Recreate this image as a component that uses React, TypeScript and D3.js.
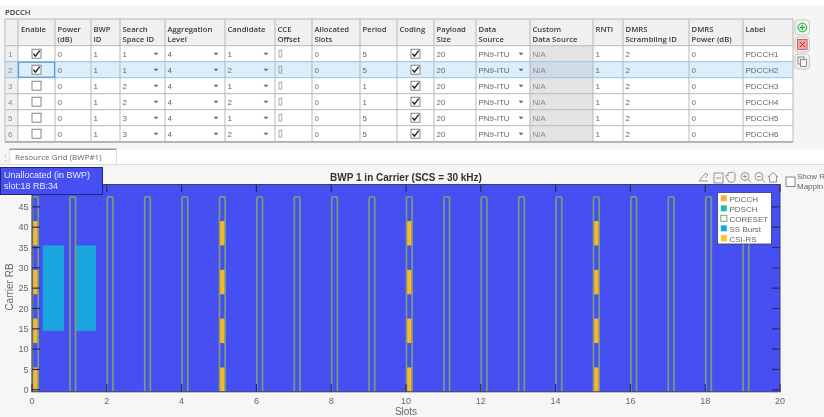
import React from "react";
import * as d3 from "d3";

const headers = [["", ""], ["Enable"], ["Power", "(dB)"], ["BWP", "ID"], ["Search", "Space ID"], ["Aggregation", "Level"], ["Candidate"], ["CCE", "Offset"], ["Allocated", "Slots"], ["Period"], ["Coding"], ["Payload", "Size"], ["Data", "Source"], ["Custom", "Data Source"], ["RNTI"], ["DMRS", "Scrambling ID"], ["DMRS", "Power (dB)"], ["Label"]];
const rowIds = ["1", "2", "3", "4", "5", "6"];
const enable = [true, true, false, false, false, false];
const power = ["0", "0", "0", "0", "0", "0"];
const bwpId = ["1", "1", "1", "1", "1", "1"];
const searchSpace = ["1", "1", "2", "2", "3", "3"];
const aggregation = ["4", "4", "4", "4", "4", "4"];
const candidate = ["1", "2", "1", "2", "1", "2"];
const allocated = ["0", "0", "0", "0", "0", "0"];
const period = ["5", "5", "1", "1", "5", "5"];
const payload = ["20", "20", "20", "20", "20", "20"];
const rnti = ["1", "1", "1", "1", "1", "1"];
const scrambling = ["2", "2", "2", "2", "2", "2"];
const dmrsPower = ["0", "0", "0", "0", "0", "0"];
const labels = ["PDCCH1", "PDCCH2", "PDCCH3", "PDCCH4", "PDCCH5", "PDCCH6"];

// grid content, in slots and resource blocks
const coresetSlots = d3.range(0, 20);
const coresetSymbols = 2;
const symbolsPerSlot = 14;
const coresetRB = [0, 47];
const csiSlots = [0, 5, 10, 15];
const csiBlocks = [[0, 5], [12, 17], [24, 29], [36, 41]];
const ssBursts = [[0.2857, 0.8571], [1.1429, 1.7143]];
const ssRB = [15, 35];
const xTicks = d3.range(0, 21, 2);
const yTicks = d3.range(0, 50, 5);
const legendItems = ["PDCCH", "PDSCH", "CORESET", "SS Burst", "CSI-RS"];
const legendColors = ["#f9ae3c", "#1fbcae", "#ffffff", "#1ba6e6", "#fbc02a"];

const colEdges = [5, 18, 55, 91, 120, 165, 225, 275, 312, 360, 397, 434, 476, 530, 593, 623, 689, 743, 793];
const rowEdge = d3.scaleLinear().domain([0, 6]).range([45.7, 141.7]);
const x = d3.scaleLinear().domain([0, 20]).range([32, 780]);
const y = d3.scaleLinear().domain([-0.5, 50.5]).range([391.8, 184.5]);

const FONT = "'Open Sans','Noto Sans',sans-serif";
const PLOTFONT = "'Liberation Sans',Arial,sans-serif";

function Check({ cx, cy, on }: { cx: number; cy: number; on: boolean }) {
  return (
    <g>
      <rect x={cx - 4.5} y={cy - 4.5} width={9} height={9} fill="#fff" stroke="#666" strokeWidth={0.8} />
      {on && <path d={`M${cx - 3},${cy} L${cx - 1},${cy + 2.5} L${cx + 3.2},${cy - 3}`} fill="none" stroke="#222" strokeWidth={1.4} />}
    </g>
  );
}

function Arrow({ cx, cy }: { cx: number; cy: number }) {
  return <path d={`M${cx - 2.5},${cy - 1} L${cx + 2.5},${cy - 1} L${cx},${cy + 1.5} Z`} fill="#666" />;
}

function Table() {
  const cols: (string[] | null)[] = [rowIds, null, power, bwpId, searchSpace, aggregation, candidate, null, allocated, period, null, payload, null, null, rnti, scrambling, dmrsPower, labels];
  const dropdown = [4, 5, 6, 12];
  return (
    <g fontFamily={FONT} fontSize={8}>
      <rect x={0} y={5} width={824} height={143} fill="#f5f5f5" />
      <text x={5} y={14.5} fill="#333" fontWeight={600} fontSize={7.6}>PDCCH</text>
      <rect x={colEdges[0]} y={19} width={788} height={26.7} fill="#f0f0f0" />
      {rowIds.map((_, r) => (
        <g key={r}>
          <rect x={18} y={rowEdge(r)} width={775} height={rowEdge(r + 1) - rowEdge(r)} fill={r === 1 ? "#dbeefc" : "#fff"} />
          <rect x={5} y={rowEdge(r)} width={13} height={rowEdge(r + 1) - rowEdge(r)} fill={r === 1 ? "#dbe6ef" : "#f0f0f0"} />
          <rect x={colEdges[13]} y={rowEdge(r)} width={colEdges[14] - colEdges[13]} height={rowEdge(r + 1) - rowEdge(r)} fill={r === 1 ? "#cfdbe6" : "#e3e3e3"} />
        </g>
      ))}
      {colEdges.map((e, i) => <line key={i} x1={e} x2={e} y1={19} y2={141.7} stroke="#b8b8b8" strokeWidth={1} />)}
      {d3.range(0, 7).map(r => <line key={r} x1={5} x2={793} y1={rowEdge(r)} y2={rowEdge(r)} stroke={r === 1 || r === 2 ? "#9fbfd8" : "#b8b8b8"} strokeWidth={1} />)}
      <line x1={5} x2={793} y1={19} y2={19} stroke="#b8b8b8" />
      <line x1={5} x2={793} y1={142} y2={142} stroke="#a8a8a8" strokeWidth={1.5} />
      {headers.map((h, c) => h.map((s, i) => (
        <text key={c + "-" + i} x={colEdges[c] + (c === 1 ? 3 : 2.5)} y={31.8 + i * 10.2} fontWeight={600} fontSize={7.7} fill="#3a3a3a">{s}</text>
      )))}
      {rowIds.map((_, r) => {
        const cy = (rowEdge(r) + rowEdge(r + 1)) / 2;
        return (
          <g key={r}>
            <Check cx={36.5} cy={cy} on={enable[r]} />
            <Check cx={415.5} cy={cy} on={true} />
            {r === 1 && <rect x={18.5} y={rowEdge(r) + 0.5} width={36} height={15} fill="none" stroke="#4a9fe0" strokeWidth={1.2} />}
            {cols.map((col, c) => col && (
              <text key={c} x={c === 0 ? 8 : colEdges[c] + 2.5} y={cy + 3} fill={c === 0 ? "#888" : "#666"} fontFamily={PLOTFONT} fontSize={8}>{col[r]}</text>
            ))}
            {dropdown.map(c => <Arrow key={c} cx={colEdges[c + 1] - 9} cy={cy} />)}
            <rect x={colEdges[7] + 4} y={cy - 3.5} width={2.8} height={7} fill="none" stroke="#888" strokeWidth={0.7} />
            <text x={colEdges[12] + 2.5} y={cy + 3} fill="#666" fontFamily={PLOTFONT} fontSize={8}>PN9-ITU</text>
            <text x={colEdges[13] + 2.5} y={cy + 3} fill="#888" fontFamily={PLOTFONT} fontSize={8}>N/A</text>
          </g>
        );
      })}
      {[20, 37, 54].map((by, i) => (
        <g key={i}>
          <rect x={795} y={by} width={14.5} height={15} rx={3} fill="#f2f2f2" stroke="#bbb" strokeWidth={0.8} />
          {i === 0 && <g><circle cx={802.3} cy={by + 7.5} r={4.4} fill="#c8f0c8" stroke="#32a852" strokeWidth={1} /><path d={`M799.8,${by + 7.5}h5M802.3,${by + 5}v5`} stroke="#2a9a48" strokeWidth={1} /></g>}
          {i === 1 && <g><rect x={797.5} y={by + 2.5} width={9.6} height={10} fill="#f2a0a0" stroke="#c04040" strokeWidth={0.7} /><path d={`M800,${by + 5}l5,5M805,${by + 5}l-5,5`} stroke="#c03030" strokeWidth={1} /></g>}
          {i === 2 && <g fill="#f2f2f2" stroke="#777" strokeWidth={0.8}><rect x={798} y={by + 3} width={6} height={7} /><rect x={800.5} y={by + 5.5} width={6} height={7} /></g>}
        </g>
      ))}
    </g>
  );
}

function Plot() {
  const fill = "#4650f2";
  const csiW = x(coresetSymbols / symbolsPerSlot) - x(0);
  const top = y(coresetRB[1] + 0.5);
  const bottom = y(coresetRB[0] - 0.5);
  return (
    <g fontFamily={PLOTFONT}>
      <rect x={0} y={148} width={824} height={269} fill="#f6f6f6" />
      <rect x={117} y={150} width={707} height={14} fill="#ffffff" />
      <rect x={0} y={164} width={824} height={1} fill="#dcdcdc" />
      <rect x={9.5} y={149.5} width={107} height={15} fill="#fff" stroke="#ddd" />
      <rect x={9.5} y={148.5} width={107} height={1.5} fill="#999" />
      <text x={15} y={160} fontSize={8} fill="#666" fontFamily={FONT}>Resource Grid (BWP#1)</text>
      <text x={2} y={160} fontSize={7} fill="#888">⋮</text>

      <rect x={x(0)} y={y(50.5)} width={x(20) - x(0)} height={y(-0.5) - y(50.5)} fill={fill} />
      {ssBursts.map((b, i) => (
        <rect key={i} x={x(b[0])} width={x(b[1]) - x(b[0])} y={y(ssRB[1] + 0.5)} height={y(ssRB[0] - 0.5) - y(ssRB[1] + 0.5)} fill="#1ba6e0" />
      ))}
      {csiSlots.map(s => csiBlocks.map((b, i) => (
        <rect key={s + "-" + i} x={x(s) + 0.5} width={csiW} y={y(b[1] + 0.5)} height={y(b[0] - 0.5) - y(b[1] + 0.5)} fill="#f9b52b" />
      )))}
      {coresetSlots.map(s => {
        const l = x(s) + 0.5;
        const r = x(s) + csiW + 0.8;
        return (
          <path key={s}
            d={`M${l},${bottom} V${top + 1.5} Q${l},${top} ${l + 1.5},${top} H${r - 1.5} Q${r},${top} ${r},${top + 1.5} V${bottom}`}
            fill="none" stroke="#7f9f72" strokeWidth={1.6} />
        );
      })}
      {xTicks.map(t => (
        <g key={t}>
          <line x1={x(t)} x2={x(t)} y1={391.8} y2={384} stroke="#23286a" strokeWidth={1.2} />
          <line x1={x(t)} x2={x(t)} y1={184.5} y2={192} stroke="#23286a" strokeWidth={1.2} />
          <text x={x(t)} y={403.5} fontSize={9} fill="#666" textAnchor="middle">{t}</text>
        </g>
      ))}
      {yTicks.map(t => (
        <g key={t}>
          <line x1={32} x2={40} y1={y(t)} y2={y(t)} stroke="#23286a" strokeWidth={1.2} />
          <line x1={780} x2={772} y1={y(t)} y2={y(t)} stroke="#23286a" strokeWidth={1.2} />
          <text x={28.5} y={y(t) + 3.2} fontSize={9} fill="#666" textAnchor="end">{t}</text>
        </g>
      ))}
      <rect x={32} y={184.5} width={748} height={207.3} fill="none" stroke="#3a3f6a" strokeWidth={1} />
      <text x={406} y={180.5} fontSize={10} fontWeight={700} fill="#333" textAnchor="middle">BWP 1 in Carrier (SCS = 30 kHz)</text>
      <text x={406} y={414.5} fontSize={10} fill="#666" textAnchor="middle">Slots</text>
      <text transform="translate(13,287) rotate(-90)" fontSize={10} fill="#666" textAnchor="middle">Carrier RB</text>

      <g>
        <rect x={717.5} y={192.5} width={54} height={51.5} fill="#fff" stroke="#333a60" strokeWidth={0.8} />
        {legendItems.map((l, i) => (
          <g key={l}>
            <rect x={720.8} y={195.3 + i * 10} width={6} height={6} fill={legendColors[i]} stroke={l === "CORESET" ? "#7f9f72" : "none"} strokeWidth={1} />
            <text x={729.5} y={201.5 + i * 10} fontSize={8} fill="#666">{l}</text>
          </g>
        ))}
      </g>

      <g fill="none" stroke="#8a8a8a" strokeWidth={0.9}>
        <path d="M699,181 l4,-5 l3,-3 l2,2 l-3,3 M699,181 h9" />
        <rect x={714} y={173} width={9} height={10} />
        <path d="M716,178h5" />
        <path d="M728,180 c-2,-3 -3,-4 -2,-5 c1,0 2,1 2,1 v-3 c0,-1 2,-1 2,0 c0,-1 2,-1 2,0 c0,-1 2,-1 2,0 c1,0 1,1 1,1 v5 c0,2 -1,3 -2,3 h-4 z" />
        <circle cx={745} cy={176.5} r={4} /><path d="M748,179.5 l3,3 M743,176.5h4M745,174.5v4" />
        <circle cx={759} cy={176.5} r={4} /><path d="M762,179.5 l3,3 M757,176.5h4" />
        <path d="M768,177 l5,-4.5 l5,4.5 M769.5,176 v6 h7 v-6" />
      </g>
      <rect x={786} y={177} width={9} height={9.5} fill="#fff" stroke="#666" strokeWidth={0.8} />
      <text x={797} y={179} fontSize={8} fill="#666">Show R</text>
      <text x={797} y={188.5} fontSize={8} fill="#666">Mappin</text>

      <rect x={0.5} y={167.5} width={102} height={27} fill={fill} stroke="#23286a" strokeWidth={1} />
      <text x={4} y={178} fontSize={9} fill="#e8ecff">Unallocated (in BWP)</text>
      <text x={4} y={188.5} fontSize={9} fill="#e8ecff">slot:18 RB:34</text>
    </g>
  );
}

export default function App() {
  return (
    <svg width={824} height={417} viewBox="0 0 824 417" style={{ position: "absolute", left: 0, top: 0, filter: "blur(0.4px)" }}>
      <rect width={824} height={417} fill="#fff" />
      <Plot />
      <Table />
    </svg>
  );
}
